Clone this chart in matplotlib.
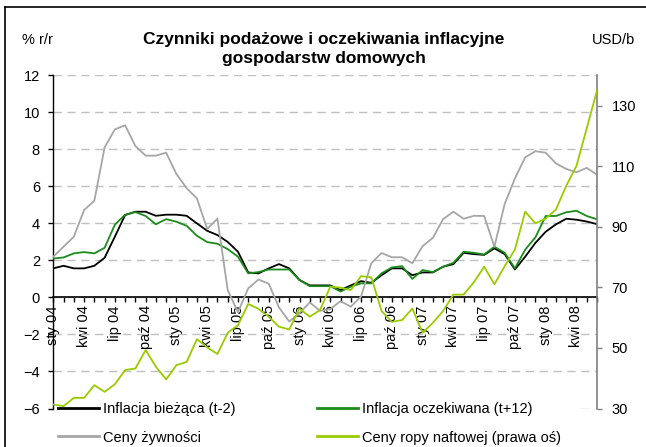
import matplotlib
matplotlib.use("Agg")
import matplotlib.pyplot as plt
import numpy as np
from matplotlib.lines import Line2D
from matplotlib.patches import Rectangle

plt.rcParams['font.family'] = ['Liberation Sans', 'DejaVu Sans']

# ---------------- data (monthly, Jan 2004 - Jun 2008) ----------------
tick_labels = ['sty 04', 'kwi 04', 'lip 04', 'paź 04',
               'sty 05', 'kwi 05', 'lip 05', 'paź 05',
               'sty 06', 'kwi 06', 'lip 06', 'paź 06',
               'sty 07', 'kwi 07', 'lip 07', 'paź 07',
               'sty 08', 'kwi 08']

inflacja_biezaca = [1.57, 1.71, 1.57, 1.57, 1.71, 2.14, 3.28, 4.45, 4.63, 4.63,
                    4.41, 4.47, 4.47, 4.41, 4.00, 3.60, 3.37, 3.00, 2.47, 1.35,
                    1.30, 1.57, 1.80, 1.57, 0.94, 0.65, 0.65, 0.65, 0.40, 0.65,
                    0.88, 0.79, 1.20, 1.57, 1.57, 1.20, 1.35, 1.35, 1.66, 1.80,
                    2.41, 2.34, 2.30, 2.65, 2.34, 1.51, 2.20, 2.95, 3.55, 3.95,
                    4.25, 4.20, 4.10, 3.96]

inflacja_oczekiwana = [2.10, 2.16, 2.38, 2.45, 2.38, 2.68, 3.93, 4.47, 4.61, 4.40,
                       3.95, 4.23, 4.09, 3.87, 3.33, 2.99, 2.90, 2.61, 2.20, 1.30,
                       1.37, 1.51, 1.51, 1.51, 0.94, 0.61, 0.61, 0.61, 0.32, 0.58,
                       0.76, 0.76, 1.30, 1.62, 1.69, 1.00, 1.48, 1.37, 1.66, 1.87,
                       2.47, 2.41, 2.32, 2.74, 2.41, 1.57, 2.58, 3.25, 4.40, 4.40,
                       4.60, 4.68, 4.40, 4.22]

ceny_zywnosci = [2.20, 2.74, 3.28, 4.72, 5.22, 8.10, 9.08, 9.30, 8.18, 7.66,
                 7.66, 7.82, 6.67, 5.90, 5.35, 3.70, 4.25, 0.40, -0.80, 0.49,
                 0.97, 0.74, -0.54, -1.30, -0.85, -0.27, -0.72, -0.63, -0.20, -0.50,
                 0.05, 1.85, 2.40, 2.17, 2.17, 1.85, 2.77, 3.22, 4.23, 4.63,
                 4.25, 4.41, 4.40, 2.74, 5.05, 6.43, 7.57, 7.90, 7.82, 7.24,
                 6.94, 6.76, 7.00, 6.63]

ceny_ropy = [31.3, 30.8, 33.5, 33.5, 37.7, 35.5, 38.0, 42.7, 43.2, 49.3,
             43.8, 39.6, 44.3, 45.4, 52.9, 50.2, 48.0, 55.0, 57.5, 64.5,
             62.9, 60.3, 57.0, 56.1, 63.0, 60.3, 62.5, 70.2, 69.9, 69.1,
             73.7, 73.3, 62.2, 58.6, 59.2, 63.0, 55.0, 58.3, 62.2, 67.6,
             67.6, 71.7, 76.8, 71.0, 77.0, 82.5, 95.0, 91.1, 92.7, 95.7,
             103.5, 110.1, 122.5, 135.0]

series_names = ['Inflacja bieżąca (t-2)', 'Inflacja oczekiwana (t+12)',
                'Ceny żywności', 'Ceny ropy naftowej (prawa oś)']

# ---------------- styling ----------------
C_BLACK = '#000000'
C_GREEN = '#1a8c1a'
C_GRAY = '#a6a6a6'
C_LIME = '#99cc00'
FS = 10.5
W, H = 646, 447

fig = plt.figure(figsize=(W / 100, H / 100), dpi=100)
fig.patch.set_facecolor('white')

L, R, T, B = 53.3, 597.0, 75.3, 408.5
ax = fig.add_axes([L / W, 1 - B / H, (R - L) / W, (B - T) / H])
ax2 = ax.twinx()

x = np.arange(len(ceny_ropy))
lw = 1.3
h_black, = ax.plot(x, inflacja_biezaca, color=C_BLACK, lw=lw, zorder=3)
h_green, = ax.plot(x, inflacja_oczekiwana, color=C_GREEN, lw=lw, zorder=3)
h_gray, = ax.plot(x, ceny_zywnosci, color=C_GRAY, lw=lw, zorder=3)
h_lime, = ax2.plot(x, ceny_ropy, color=C_LIME, lw=lw, zorder=3)

ax.set_xlim(0, len(x) - 1)
ax.set_ylim(-6, 12)
ax2.set_ylim(30, 140)

# grid
ax.set_yticks(np.arange(-6, 13, 2))
ax.yaxis.grid(True, linestyle=(0, (6, 4)), color='#c0c0c0', lw=1.0)
ax.set_axisbelow(True)

# spines
ax.spines['top'].set_visible(False)
ax.spines['right'].set_visible(False)
ax.spines['bottom'].set_position(('data', 0))
ax.spines['bottom'].set_color('black')
ax.spines['bottom'].set_linewidth(1.2)
ax.spines['left'].set_color('black')
ax.spines['left'].set_linewidth(1.0)
for s in ['top', 'left', 'bottom']:
    ax2.spines[s].set_visible(False)
ax2.spines['right'].set_color('#808080')
ax2.spines['right'].set_linewidth(1.2)

# x ticks
ax.set_xticks(np.arange(0, len(x), 3))
ax.set_xticklabels(tick_labels, rotation=90, fontsize=FS)
ax.set_xticks(np.arange(len(x)), minor=True)
ax.tick_params(axis='x', which='both', direction='out', length=3.6, width=1.0,
               color='black', pad=2)

# y ticks
ax.tick_params(axis='y', direction='out', length=3.6, width=1.0, color='black',
               labelsize=FS, pad=6)
ax2.set_yticks([30, 50, 70, 90, 110, 130])
ax2.tick_params(axis='y', direction='out', length=3.6, width=1.0, color='#808080',
                labelsize=FS, pad=7)

# white box under legend
fig.patches.append(Rectangle((55 / W, 0), (576 - 55) / W, (H - 407) / H,
                             transform=fig.transFigure, facecolor='white',
                             edgecolor='none', zorder=4))

leg_kw = dict(frameon=False, fontsize=FS, handlelength=2.8, handletextpad=0.3,
              borderpad=0, borderaxespad=0, labelspacing=1.0, loc='upper left')
lg1 = fig.legend([h_black, h_gray], [series_names[0], series_names[2]],
                 bbox_to_anchor=(58 / W, 1 - 402 / H), **leg_kw)
lg2 = fig.legend([h_green, h_lime], [series_names[1], series_names[3]],
                 bbox_to_anchor=(317 / W, 1 - 402 / H), **leg_kw)
for lg in (lg1, lg2):
    lg.set_zorder(6)
    for ln in lg.get_lines():
        ln.set_linewidth(2.0)

# titles
fig.text(324 / W, 1 - 44 / H, 'Czynniki podażowe i oczekiwania inflacyjne',
         ha='center', va='baseline', fontsize=12.5, fontweight='bold')
fig.text(324 / W, 1 - 62.7 / H, 'gospodarstw domowych',
         ha='center', va='baseline', fontsize=12.5, fontweight='bold')
fig.text(22 / W, 1 - 44 / H, '% r/r', ha='left', va='baseline', fontsize=FS)
fig.text(635 / W, 1 - 44 / H, 'USD/b', ha='right', va='baseline', fontsize=FS)

# outer frame (clipped at right and bottom)
fig.lines.append(Line2D([5 / W, 1.0], [1 - 7 / H, 1 - 7 / H],
                        transform=fig.transFigure, color='black', lw=1.2))
fig.lines.append(Line2D([5 / W, 5 / W], [1 - 7 / H, 0.0],
                        transform=fig.transFigure, color='black', lw=1.2))

fig.savefig('out.png', dpi=100)
